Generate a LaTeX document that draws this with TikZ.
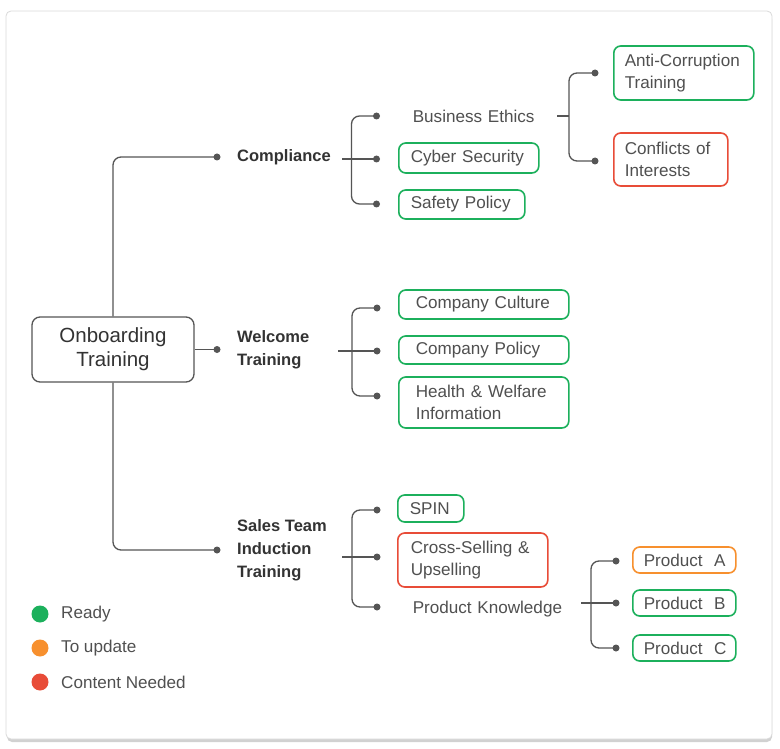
\documentclass[tikz,border=0pt]{standalone}
\usepackage{fontspec}
\setmainfont{Liberation Sans}
\definecolor{lineg}{RGB}{85,85,85}
\definecolor{txtg}{RGB}{80,80,80}
\definecolor{darkg}{RGB}{51,51,51}
\definecolor{cgreen}{RGB}{28,176,92}
\definecolor{corange}{RGB}{247,144,46}
\definecolor{cred}{RGB}{232,76,56}
\definecolor{cardb}{RGB}{218,218,218}
\newcommand\leaffont{\fontsize{17.1}{22}\selectfont}
\newcommand\lvlfont{\fontsize{16.5}{23}\selectfont\bfseries}
\newcommand\rootfont{\fontsize{20.5}{24}\selectfont}
\begin{document}
\begin{tikzpicture}[x=1pt,y=-1pt,
  conn/.style={draw=lineg, line width=1.3pt, rounded corners=8pt},
  dot/.style={circle, fill=lineg, inner sep=0pt, minimum size=7pt},
  leaf/.style={rounded corners=7pt, line width=1.6pt, inner xsep=12pt, inner ysep=0pt, anchor=west, align=left, text=txtg, font=\leaffont},
  lvl/.style={anchor=west, align=left, inner sep=0pt, text=darkg, font=\lvlfont},
  legdot/.style={circle, inner sep=0pt, minimum size=17pt},
  legtxt/.style={anchor=west, inner sep=0pt, text=txtg, font=\leaffont}]
\useasboundingbox (0,0) rectangle (780,749);
% card
\fill[black!18, rounded corners=5pt] (7,14) rectangle (772,742);
\draw[cardb, fill=white, line width=0.8pt, rounded corners=5pt] (6,11) rectangle (772,739);

% root
\node[draw=lineg, line width=1.3pt, rounded corners=8pt, minimum width=162pt, minimum height=65pt, align=center, text=darkg, font=\rootfont, inner sep=0pt] (root) at (113,349.5) {Onboarding\\Training};

% level 1
\node[dot] (dcomp) at (217,157) {};
\node[dot] (dwel) at (217,349.5) {};
\node[dot] (dsales) at (217,550) {};
\node[lvl] (comp) at (237,157) {Compliance};
\node[lvl] (wel) at (237,350) {Welcome\\Training};
\node[lvl] (sales) at (237,550) {Sales Team\\Induction\\Training};
\draw[conn] (root.north) |- (dcomp.center);
\draw[conn] (root.south) |- (dsales.center);
\draw[conn] (root.east) -- (dwel.center);

% compliance
\node[dot] (c1) at (376.5,116) {};
\node[dot] (c2) at (376.5,159) {};
\node[dot] (c3) at (376.5,204) {};
\coordinate (cj) at (342,159);
\draw[conn] (cj) -- (c2.center);
\draw[conn] (c1.center) -| (351.5,159) |- (c3.center);
\node[leaf, draw=none, inner xsep=14pt, text width=130pt, minimum height=30pt] (bus) at (398,116) {\mbox{Business Ethics}};
\node[leaf, draw=cgreen, text width=116pt, minimum height=30pt] (cyber) at (398,158) {Cyber Security};
\node[leaf, draw=cgreen, text width=102pt, minimum height=29pt] (safety) at (398,204.5) {Safety Policy};

% business ethics children
\coordinate (bj) at (557,116);
\node[dot] (b1) at (595,73) {};
\node[dot] (b2) at (595,161) {};
\draw[conn] (bj) -- (569,116);
\draw[conn] (b1.center) -| (569,116) |- (b2.center);
\node[leaf, draw=cgreen, inner xsep=11pt, text width=118pt, minimum height=54pt] (anti) at (613,73) {\mbox{Anti-Corruption}\\Training};
\node[leaf, draw=cred, inner xsep=11pt, text width=92pt, minimum height=53pt] (confl) at (613,159.5) {\mbox{Conflicts of}\\Interests};

% welcome
\coordinate (wj) at (338,351);
\node[dot] (w1) at (377,308) {};
\node[dot] (w2) at (377,351) {};
\node[dot] (w3) at (377,396) {};
\draw[conn] (wj) -- (w2.center);
\draw[conn] (w1.center) -| (352,351) |- (w3.center);
\node[leaf, draw=cgreen, inner xsep=17pt, text width=136pt, minimum height=29pt] (cult) at (398,304.5) {\mbox{Company Culture}};
\node[leaf, draw=cgreen, inner xsep=17pt, text width=136pt, minimum height=28pt] (pol) at (398,350) {\mbox{Company Policy}};
\node[leaf, draw=cgreen, inner xsep=17pt, text width=136pt, minimum height=51pt] (health) at (398,402.5) {\mbox{Health \& Welfare}\\Information};

% sales
\coordinate (sj) at (342,557);
\node[dot] (s1) at (377,510) {};
\node[dot] (s2) at (377,557) {};
\node[dot] (s3) at (377,607) {};
\draw[conn] (sj) -- (s2.center);
\draw[conn] (s1.center) -| (352,557) |- (s3.center);
\node[leaf, draw=cgreen, text width=42pt, minimum height=27pt] (spin) at (397,508.5) {SPIN};
\node[leaf, draw=cred, inner xsep=13pt, text width=124pt, minimum height=54pt] (cross) at (397,560) {\mbox{Cross-Selling \&}\\Upselling};
\node[leaf, draw=none, inner xsep=14pt, text width=160pt, minimum height=28pt] (pk) at (398,609) {\mbox{Product Knowledge}};

% products
\coordinate (pj) at (581,603);
\node[dot] (p1) at (616,561) {};
\node[dot] (p2) at (616,603) {};
\node[dot] (p3) at (616,648) {};
\draw[conn] (pj) -- (p2.center);
\draw[conn] (p1.center) -| (591,603) |- (p3.center);
\node[leaf, draw=corange, inner xsep=11pt, text width=81pt, minimum height=26pt] (pa) at (632,560) {Product~~A};
\node[leaf, draw=cgreen, inner xsep=11pt, text width=81pt, minimum height=26pt] (pb) at (632,603) {Product~~B};
\node[leaf, draw=cgreen, inner xsep=11pt, text width=81pt, minimum height=26pt] (pc) at (632,648) {Product~~C};

% legend
\node[legdot, fill=cgreen] (lg) at (40,614) {};
\node[legdot, fill=corange] (lo) at (40,648) {};
\node[legdot, fill=cred] (lr) at (40,682) {};
\node[legtxt] (tg) at (61,614) {Ready};
\node[legtxt] (to) at (61,648) {To update};
\node[legtxt] (tr) at (61,682) {Content Needed};
\end{tikzpicture}
\end{document}
